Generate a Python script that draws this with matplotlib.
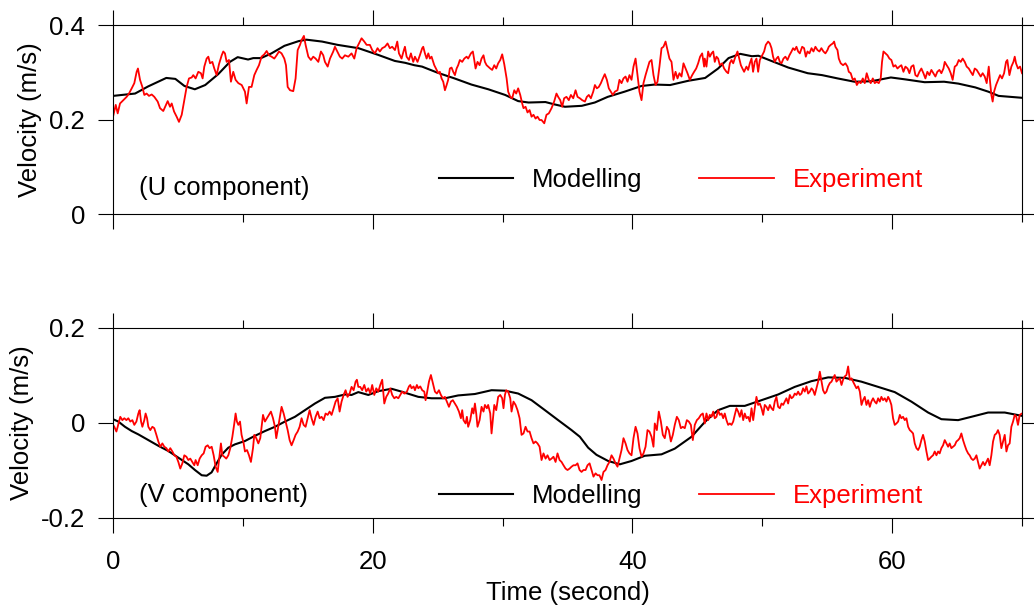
"""Modelled vs measured velocity (U and V components) over time."""

import matplotlib

matplotlib.use("Agg")
import matplotlib.pyplot as plt
from matplotlib.ticker import FuncFormatter, MultipleLocator

plt.rcParams["font.family"] = ["Liberation Sans", "DejaVu Sans"]

# ---- U component ----------------------------------------------------------
u_model_t = [0.0, 1.7, 2.7, 4.1, 4.8, 5.5, 6.3, 7.1, 8.1, 9.0, 9.6, 10.4, 10.8,
             11.4, 12.2, 13.2, 14.3, 14.9, 16.1, 17.3, 18.9, 20.4, 21.7, 22.5,
             23.2, 23.8, 25.0, 26.3, 27.6, 28.9, 30.2, 31.2, 32.0, 33.3, 34.0,
             34.8, 36.1, 37.1, 38.1, 39.4, 40.7, 41.7, 42.9, 44.3, 45.6, 46.6,
             47.4, 48.3, 49.2, 49.7, 50.7, 52.0, 53.5, 54.6, 55.8, 57.1, 58.4,
             59.9, 61.0, 62.5, 64.0, 65.1, 66.4, 67.4, 68.2, 70.0]
u_model = [0.250, 0.255, 0.270, 0.288, 0.286, 0.271, 0.264, 0.273, 0.296,
           0.322, 0.332, 0.327, 0.330, 0.330, 0.340, 0.356, 0.366, 0.369,
           0.365, 0.358, 0.351, 0.337, 0.324, 0.320, 0.315, 0.312, 0.299,
           0.287, 0.274, 0.264, 0.252, 0.239, 0.236, 0.237, 0.232, 0.227,
           0.229, 0.236, 0.248, 0.259, 0.271, 0.274, 0.273, 0.282, 0.288,
           0.308, 0.330, 0.339, 0.334, 0.335, 0.324, 0.310, 0.298, 0.294,
           0.287, 0.280, 0.281, 0.289, 0.285, 0.279, 0.280, 0.276, 0.268,
           0.259, 0.250, 0.246]

u_exp_t = [
    0.00, 0.21, 0.36, 0.54, 0.80, 1.05, 1.23, 1.44, 1.64, 1.82, 1.92, 2.08,
    2.26, 2.41, 2.59, 2.77, 2.98, 3.18, 3.44, 3.62, 3.87, 4.08, 4.21, 4.39,
    4.52, 4.70, 4.90, 5.08, 5.29, 5.49, 5.67, 5.85, 6.06, 6.18, 6.36, 6.57,
    6.77, 6.90, 7.03, 7.21, 7.34, 7.47, 7.65, 7.80, 7.98, 8.16, 8.37, 8.49,
    8.62, 8.75, 8.93, 9.08, 9.26, 9.44, 9.65, 9.91, 10.16, 10.29, 10.47,
    10.67, 10.88, 11.06, 11.24, 11.44, 11.65, 11.83, 12.01, 12.21, 12.42,
    12.60, 12.78, 12.98, 13.19, 13.32, 13.45, 13.63, 13.88, 14.06, 14.22,
    14.40, 14.52, 14.70, 14.83, 15.04, 15.24, 15.42, 15.60, 15.81, 16.01,
    16.19, 16.32, 16.53, 16.71, 16.96, 17.09, 17.27, 17.47, 17.65, 17.86,
    18.12, 18.37, 18.58, 18.76, 18.94, 19.14, 19.35, 19.53, 19.78, 19.96,
    20.17, 20.37, 20.55, 20.73, 20.94, 21.14, 21.32, 21.50, 21.71, 21.89,
    22.02, 22.22, 22.40,
    22.48, 22.61, 22.79, 22.94, 23.12, 23.25, 23.45, 23.63, 23.81, 23.89,
    24.02, 24.15, 24.28, 24.40, 24.53, 24.74, 24.92, 25.05, 25.17, 25.30,
    25.43, 25.56, 25.69, 25.81, 25.94, 26.07, 26.20, 26.33, 26.46, 26.58,
    26.71, 26.89, 27.05, 27.23, 27.35, 27.56, 27.71, 27.82, 27.92, 28.07,
    28.23, 28.38, 28.53, 28.64, 28.77, 28.89, 29.05, 29.20, 29.36, 29.51,
    29.66, 29.82, 29.97, 30.13, 30.31, 30.43, 30.59, 30.74, 30.90, 31.05,
    31.20, 31.36, 31.51, 31.61, 31.77, 31.92, 32.08, 32.23, 32.38, 32.54,
    32.69, 32.85, 33.00, 33.21, 33.38, 33.56, 33.77, 33.97, 34.15, 34.28,
    34.44, 34.59, 34.74, 34.92, 35.10, 35.26, 35.44, 35.62, 35.77, 35.95,
    36.13, 36.34, 36.49, 36.64, 36.80, 36.98, 37.11, 37.26, 37.41, 37.57,
    37.72, 37.87, 38.03, 38.18, 38.34, 38.49, 38.65, 38.85, 39.00, 39.16,
    39.31, 39.47, 39.62, 39.77, 39.93, 40.08, 40.24, 40.39, 40.54, 40.70,
    40.85, 41.01, 41.16, 41.31, 41.47, 41.62, 41.78, 41.93, 42.08, 42.24,
    42.39, 42.55, 42.70, 42.85, 43.01, 43.16, 43.32, 43.47, 43.62, 43.78,
    43.93, 44.09, 44.24, 44.42, 44.60, 44.75, 44.91, 45.06, 45.21, 45.37,
    45.52,
    45.57, 45.70, 45.83, 45.96, 46.09, 46.22, 46.34, 46.47, 46.60, 46.73,
    46.91, 47.06, 47.24, 47.37, 47.50, 47.63, 47.76, 47.93, 48.09, 48.22,
    48.35, 48.47, 48.60, 48.78, 48.91, 49.04, 49.17, 49.29, 49.42, 49.55,
    49.68, 49.81, 49.99, 50.14, 50.27, 50.45, 50.58, 50.71, 50.83, 50.96,
    51.09, 51.22, 51.35, 51.48, 51.63, 51.78, 51.94, 52.09, 52.25, 52.37,
    52.50, 52.63, 52.76, 52.89, 53.07, 53.22, 53.35, 53.48, 53.63, 53.79,
    53.94, 54.09, 54.25, 54.40, 54.55, 54.71, 54.86, 55.02, 55.12, 55.27,
    55.43, 55.53, 55.63, 55.79, 55.89, 56.04, 56.22, 56.40, 56.56, 56.66,
    56.81, 56.97, 57.12, 57.28, 57.43, 57.58, 57.74, 57.89, 58.04, 58.20,
    58.35, 58.51, 58.66, 58.81, 58.97, 59.12, 59.22, 59.33, 59.48, 59.64,
    59.79, 59.94, 60.10, 60.25, 60.41, 60.56, 60.71, 60.87, 61.02, 61.19,
    61.33, 61.48, 61.64, 61.79, 61.94, 62.10, 62.25, 62.41, 62.56, 62.71,
    62.87, 63.02, 63.18, 63.33, 63.48, 63.64, 63.79, 63.95, 64.05, 64.20,
    64.36, 64.51, 64.66, 64.82, 64.97, 65.13, 65.28, 65.43, 65.59, 65.74,
    65.90, 66.05, 66.21, 66.36, 66.51, 66.67, 66.82, 66.97, 67.13, 67.28,
    67.44, 67.54, 67.64, 67.74, 67.85, 68.00, 68.16, 68.31, 68.46, 68.62,
    68.77, 68.87, 69.03, 69.18, 69.34, 69.44, 69.54, 69.69, 69.85, 70.00,
]
u_exp = [
    0.206, 0.231, 0.213, 0.234, 0.241, 0.248, 0.255, 0.266, 0.277, 0.301,
    0.308, 0.284, 0.269, 0.252, 0.255, 0.250, 0.253, 0.248, 0.238, 0.224,
    0.218, 0.231, 0.239, 0.227, 0.234, 0.217, 0.206, 0.195, 0.210, 0.241,
    0.269, 0.287, 0.289, 0.294, 0.287, 0.301, 0.298, 0.287, 0.312, 0.329,
    0.333, 0.319, 0.322, 0.308, 0.294, 0.317, 0.336, 0.344, 0.340, 0.322,
    0.326, 0.280, 0.301, 0.284, 0.277, 0.273, 0.259, 0.234, 0.269, 0.269,
    0.294, 0.305, 0.315, 0.333, 0.338, 0.345, 0.336, 0.333, 0.329, 0.336,
    0.344, 0.340, 0.329, 0.315, 0.269, 0.262, 0.260, 0.287, 0.347, 0.358,
    0.368, 0.377, 0.358, 0.333, 0.326, 0.333, 0.329, 0.322, 0.344, 0.336,
    0.322, 0.312, 0.329, 0.344, 0.354, 0.344, 0.333, 0.329, 0.336, 0.333,
    0.340, 0.329, 0.351, 0.361, 0.372, 0.365, 0.358, 0.358, 0.347, 0.340,
    0.351, 0.344, 0.351, 0.354, 0.361, 0.351, 0.354, 0.347, 0.365, 0.340,
    0.329, 0.347,
    0.354, 0.333, 0.326, 0.340, 0.322, 0.333, 0.322, 0.336, 0.351, 0.354,
    0.340, 0.329, 0.340, 0.329, 0.333, 0.315, 0.305, 0.298, 0.301, 0.287,
    0.280, 0.262, 0.273, 0.284, 0.308, 0.310, 0.301, 0.294, 0.308, 0.315,
    0.326, 0.322, 0.329, 0.333, 0.329, 0.340, 0.344, 0.326, 0.308, 0.322,
    0.315, 0.329, 0.336, 0.322, 0.315, 0.312, 0.308, 0.305, 0.315, 0.308,
    0.319, 0.326, 0.338, 0.317, 0.287, 0.259, 0.248, 0.245, 0.262, 0.255,
    0.266, 0.252, 0.234, 0.224, 0.227, 0.215, 0.220, 0.206, 0.210, 0.202,
    0.206, 0.199, 0.199, 0.192, 0.210, 0.213, 0.224, 0.238, 0.255, 0.248,
    0.241, 0.227, 0.245, 0.248, 0.241, 0.252, 0.245, 0.262, 0.248, 0.245,
    0.241, 0.238, 0.248, 0.252, 0.245, 0.259, 0.273, 0.266, 0.269, 0.277,
    0.287, 0.296, 0.284, 0.266, 0.259, 0.252, 0.259, 0.262, 0.284, 0.277,
    0.287, 0.291, 0.280, 0.294, 0.284, 0.312, 0.329, 0.294, 0.259, 0.241,
    0.277, 0.294, 0.308, 0.322, 0.326, 0.294, 0.273, 0.280, 0.312, 0.351,
    0.354, 0.365, 0.347, 0.329, 0.322, 0.284, 0.301, 0.287, 0.298, 0.291,
    0.319, 0.308, 0.298, 0.284, 0.294, 0.301, 0.308, 0.319, 0.333, 0.340,
    0.312,
    0.329, 0.312, 0.344, 0.333, 0.340, 0.344, 0.322, 0.333, 0.329, 0.315,
    0.319, 0.308, 0.301, 0.298, 0.319, 0.326, 0.319, 0.333, 0.344, 0.329,
    0.315, 0.308, 0.301, 0.312, 0.305, 0.319, 0.329, 0.301, 0.322, 0.329,
    0.301, 0.326, 0.336, 0.344, 0.358, 0.365, 0.361, 0.351, 0.333, 0.322,
    0.329, 0.333, 0.322, 0.319, 0.329, 0.333, 0.326, 0.336, 0.344, 0.351,
    0.347, 0.354, 0.344, 0.340, 0.354, 0.351, 0.333, 0.344, 0.340, 0.351,
    0.344, 0.354, 0.347, 0.344, 0.351, 0.344, 0.340, 0.347, 0.354, 0.358,
    0.361, 0.365, 0.354, 0.347, 0.329, 0.319, 0.315, 0.319, 0.312, 0.301,
    0.298, 0.284, 0.287, 0.273, 0.280, 0.277, 0.287, 0.277, 0.298, 0.284,
    0.277, 0.287, 0.277, 0.280, 0.277, 0.287, 0.322, 0.344, 0.340, 0.336,
    0.329, 0.326, 0.312, 0.315, 0.308, 0.312, 0.315, 0.301, 0.312, 0.308,
    0.298, 0.312, 0.315, 0.294, 0.291, 0.301, 0.308, 0.298, 0.287, 0.301,
    0.294, 0.305, 0.298, 0.291, 0.301, 0.305, 0.298, 0.308, 0.322, 0.315,
    0.308, 0.298, 0.284, 0.312, 0.315, 0.326, 0.322, 0.329, 0.322, 0.312,
    0.308, 0.301, 0.294, 0.308, 0.305, 0.298, 0.291, 0.298, 0.291, 0.277,
    0.312, 0.280, 0.252, 0.238, 0.259, 0.273, 0.284, 0.294, 0.287, 0.298,
    0.322, 0.326, 0.294, 0.312, 0.322, 0.333, 0.319, 0.308, 0.312, 0.298,
]

# ---- V component ----------------------------------------------------------
v_model_t = [0.0, 0.41, 0.92, 1.44, 1.95, 2.72, 3.49, 4.26, 5.03, 5.80, 6.31,
             6.83, 7.21, 7.59, 7.98, 8.36, 8.88, 9.39, 10.16, 10.93, 11.70,
             12.47, 13.24, 14.01, 14.78, 15.55, 16.32, 17.09, 17.86, 18.37,
             18.89, 19.66, 20.43, 21.45, 22.22, 23.51, 24.53, 25.56, 26.58,
             27.87, 29.15, 30.18, 31.20, 32.23, 33.26, 34.28, 35.31, 35.95,
             36.59, 37.23, 38.13, 39.03, 39.93, 40.95, 42.24, 43.26, 44.55,
             45.57, 46.29, 46.60, 47.50, 48.65, 49.94, 51.22, 52.50, 53.78,
             55.07, 56.35, 57.63, 58.92, 60.20, 61.48, 62.77, 63.79, 65.08,
             66.10, 67.39, 68.67, 70.0]
v_model = [0.008, 0.003, -0.008, -0.017, -0.024, -0.036, -0.048, -0.059,
           -0.073, -0.087, -0.099, -0.110, -0.111, -0.104, -0.085, -0.067,
           -0.052, -0.045, -0.038, -0.027, -0.017, -0.008, 0.003, 0.013,
           0.027, 0.041, 0.053, 0.055, 0.060, 0.059, 0.065, 0.059, 0.067,
           0.072, 0.066, 0.055, 0.052, 0.052, 0.058, 0.061, 0.069, 0.068,
           0.062, 0.048, 0.027, 0.006, -0.015, -0.029, -0.052, -0.067,
           -0.080, -0.087, -0.080, -0.069, -0.066, -0.054, -0.029, 0.002,
           0.020, 0.027, 0.036, 0.036, 0.048, 0.060, 0.076, 0.088, 0.096,
           0.095, 0.087, 0.076, 0.065, 0.045, 0.022, 0.008, 0.006, 0.013,
           0.022, 0.022, 0.015]

v_exp_t = [
    0.00, 0.10, 0.26, 0.36, 0.46, 0.56, 0.72, 0.87, 1.03, 1.18, 1.33, 1.49,
    1.64, 1.80, 1.95, 2.05, 2.16, 2.26, 2.41, 2.51, 2.62, 2.72, 2.87, 3.03,
    3.18, 3.34, 3.49, 3.64, 3.80, 3.95, 4.11, 4.26, 4.41, 4.57, 4.72, 4.88,
    5.03, 5.18, 5.34, 5.49, 5.65, 5.80, 5.95, 6.11, 6.26, 6.36, 6.52, 6.67,
    6.83, 6.98, 7.13, 7.29, 7.44, 7.60, 7.75, 7.90, 8.06, 8.21, 8.31, 8.42,
    8.57, 8.72, 8.88, 9.03, 9.19, 9.34, 9.44, 9.54, 9.65, 9.78, 9.90, 10.06,
    10.16, 10.32, 10.47, 10.62, 10.78, 10.88, 11.03, 11.19, 11.34, 11.44,
    11.55, 11.70, 11.85, 12.01, 12.16, 12.32, 12.47, 12.57, 12.68, 12.83,
    12.98, 13.14, 13.29, 13.45, 13.60, 13.75, 13.91, 14.06, 14.22, 14.37,
    14.52, 14.68, 14.83, 14.99, 15.14, 15.29, 15.45, 15.60, 15.76, 15.91,
    16.06, 16.22, 16.37, 16.53, 16.68, 16.83, 16.99, 17.14, 17.30, 17.45,
    17.60, 17.76, 17.91, 18.06, 18.22, 18.37, 18.53, 18.68, 18.78, 18.89,
    19.04, 19.19, 19.35, 19.50, 19.66, 19.81, 19.96, 20.12, 20.27, 20.43,
    20.58, 20.73, 20.89, 21.04, 21.19, 21.35, 21.50, 21.66, 21.81, 21.97,
    22.12, 22.27, 22.43,
    22.48, 22.63, 22.79, 22.89, 22.99, 23.15, 23.25, 23.40, 23.51, 23.66,
    23.81, 23.97, 24.07, 24.17, 24.33, 24.48, 24.63, 24.79, 24.94, 25.10,
    25.25, 25.40, 25.56, 25.71, 25.87, 26.02, 26.17, 26.33, 26.48, 26.64,
    26.79, 26.89, 26.99, 27.15, 27.25, 27.35, 27.51, 27.66, 27.76, 27.87,
    27.97, 28.07, 28.23, 28.38, 28.53, 28.64, 28.79, 28.89, 29.05, 29.15,
    29.25, 29.36, 29.51, 29.66, 29.82, 29.97, 30.07, 30.18, 30.28, 30.43,
    30.59, 30.69, 30.84, 31.00, 31.15, 31.31, 31.46, 31.61, 31.77, 31.92,
    32.08, 32.23, 32.38, 32.54, 32.69, 32.85, 33.00, 33.15, 33.31, 33.46,
    33.62, 33.77, 33.92, 34.08, 34.23, 34.39, 34.54, 34.69, 34.85, 35.00,
    35.16, 35.31, 35.46, 35.62, 35.77, 35.93, 36.08, 36.23, 36.39, 36.54,
    36.70, 36.85, 37.00, 37.16, 37.31, 37.46, 37.62, 37.77, 37.93, 38.08,
    38.23, 38.39, 38.54, 38.70, 38.85, 39.00, 39.16, 39.31, 39.47, 39.62,
    39.77, 39.93, 40.08, 40.24, 40.39, 40.54, 40.70, 40.85, 41.01, 41.16,
    41.31, 41.47, 41.62, 41.72, 41.88, 42.03, 42.19, 42.34, 42.49, 42.65,
    42.80, 42.96, 43.11, 43.26, 43.42, 43.57, 43.73, 43.88, 44.03, 44.19,
    44.34, 44.50, 44.65, 44.80, 44.96, 45.11, 45.27, 45.42,
    45.57, 45.70, 45.83, 45.96, 46.09, 46.22, 46.34, 46.47, 46.60, 46.73,
    46.86, 46.99, 47.11, 47.24, 47.37, 47.50, 47.63, 47.76, 47.88, 48.01,
    48.14, 48.27, 48.40, 48.53, 48.65, 48.78, 48.91, 49.04, 49.17, 49.30,
    49.42, 49.55, 49.68, 49.81, 49.94, 50.07, 50.19, 50.32, 50.45, 50.58,
    50.71, 50.84, 50.96, 51.09, 51.22, 51.35, 51.48, 51.61, 51.73, 51.86,
    51.99, 52.12, 52.25, 52.38, 52.50, 52.63, 52.76, 52.89, 53.02, 53.14,
    53.27, 53.40, 53.53, 53.66, 53.79, 53.91, 54.04, 54.17, 54.30, 54.43,
    54.56, 54.68, 54.81, 54.94, 55.07, 55.20, 55.33, 55.45, 55.58, 55.71,
    55.84, 55.97, 56.10, 56.22, 56.35, 56.48, 56.61, 56.74, 56.87, 56.99,
    57.12, 57.25, 57.38, 57.51, 57.64, 57.76, 57.89, 58.02, 58.15, 58.28,
    58.40, 58.53, 58.66, 58.79, 58.92, 59.05, 59.17, 59.30, 59.43, 59.56,
    59.69, 59.82, 59.94, 60.07, 60.20, 60.33, 60.46, 60.59, 60.71, 60.84,
    60.97, 61.10, 61.23, 61.36, 61.48, 61.61, 61.74, 61.87, 62.00, 62.12,
    62.25, 62.38, 62.51, 62.64, 62.77, 62.89, 63.02, 63.15, 63.28, 63.41,
    63.54, 63.66, 63.79, 63.92, 64.05, 64.18, 64.31, 64.43, 64.56, 64.69,
    64.82, 64.95, 65.08, 65.20, 65.33, 65.46, 65.59, 65.72, 65.85, 65.97,
    66.10, 66.23, 66.36, 66.49, 66.61, 66.74, 66.87, 67.00, 67.13, 67.26,
    67.38, 67.51, 67.64, 67.77, 67.90, 68.03, 68.15, 68.28, 68.41, 68.54,
    68.67, 68.80, 68.92, 69.05, 69.18, 69.31, 69.44, 69.56, 69.69, 69.82,
    70.00,
]
v_exp = [
    -0.004, -0.008, -0.018, -0.008, 0.003, 0.013, 0.006, 0.010, 0.006, 0.010,
    0.003, 0.006, -0.004, 0.003, 0.020, 0.027, 0.003, -0.008, 0.006, 0.020,
    0.010, -0.008, -0.015, -0.008, -0.011, -0.025, -0.039, -0.050, -0.043,
    -0.050, -0.053, -0.060, -0.053, -0.060, -0.068, -0.071, -0.082, -0.096,
    -0.085, -0.068, -0.071, -0.078, -0.075, -0.082, -0.089, -0.078, -0.089,
    -0.075, -0.068, -0.064, -0.050, -0.047, -0.053, -0.050, -0.068, -0.092,
    -0.103, -0.068, -0.043, -0.068, -0.071, -0.075, -0.068, -0.053, -0.029,
    -0.001, 0.020, 0.003, -0.004, 0.003, -0.025, -0.043, -0.060, -0.057,
    -0.068, -0.082, -0.053, -0.025, -0.032, -0.043, -0.032, -0.008, 0.017,
    0.003, 0.010, 0.017, 0.024, 0.010, -0.008, -0.032, -0.015, 0.010, 0.034,
    0.020, 0.003, -0.015, -0.036, -0.047, -0.036, -0.025, -0.018, -0.008,
    0.010, -0.004, -0.008, 0.010, 0.027, 0.010, -0.004, 0.013, 0.024, 0.010,
    0.013, 0.006, 0.020, 0.017, 0.024, 0.017, 0.031, 0.045, 0.052, 0.024,
    0.045, 0.059, 0.069, 0.055, 0.062, 0.076, 0.069, 0.087, 0.091, 0.076,
    0.076, 0.069, 0.080, 0.066, 0.073, 0.062, 0.080, 0.059, 0.073, 0.066,
    0.080, 0.091, 0.041, 0.055, 0.062, 0.073, 0.059, 0.052, 0.055, 0.052,
    0.059, 0.066, 0.062,
    0.062, 0.066, 0.077, 0.080, 0.073, 0.077, 0.069, 0.080, 0.073, 0.077,
    0.069, 0.066, 0.048, 0.062, 0.087, 0.101, 0.084, 0.066, 0.062, 0.069,
    0.059, 0.052, 0.055, 0.045, 0.034, 0.045, 0.048, 0.041, 0.034, 0.024,
    0.010, 0.027, 0.006, -0.001, 0.013, -0.008, 0.006, 0.031, 0.020, 0.041,
    0.020, -0.008, 0.006, 0.034, 0.024, 0.038, 0.031, 0.038, 0.020, -0.022,
    0.006, 0.038, 0.027, 0.055, 0.059, 0.052, 0.031, 0.059, 0.069, 0.066,
    0.052, 0.024, 0.045, 0.038, 0.027, 0.010, -0.025, -0.022, -0.008, -0.018,
    -0.018, -0.032, -0.043, -0.039, -0.043, -0.050, -0.078, -0.064, -0.075,
    -0.068, -0.078, -0.075, -0.071, -0.082, -0.064, -0.078, -0.082, -0.089,
    -0.096, -0.099, -0.096, -0.092, -0.089, -0.089, -0.085, -0.099, -0.103,
    -0.099, -0.099, -0.089, -0.085, -0.099, -0.113, -0.106, -0.110, -0.110,
    -0.120, -0.103, -0.099, -0.089, -0.082, -0.068, -0.075, -0.085, -0.092,
    -0.075, -0.057, -0.032, -0.043, -0.057, -0.064, -0.068, -0.032, -0.008,
    -0.022, -0.053, -0.071, -0.064, -0.050, -0.015, -0.018, -0.029, -0.050,
    -0.001, -0.015, 0.024, 0.003, -0.025, -0.032, -0.008, -0.015, -0.039,
    -0.025, -0.004, 0.013, 0.006, -0.011, -0.008, -0.011, 0.006, 0.003,
    -0.004, -0.036, -0.004, 0.006, 0.010, 0.017, 0.020,
    -0.001, 0.020, 0.006, 0.017, 0.013, 0.024, 0.010, 0.013, 0.027, 0.017,
    0.020, 0.010, 0.020, 0.006, -0.004, -0.001, -0.004, 0.003, 0.017, 0.031,
    0.024, 0.013, 0.027, 0.006, 0.020, 0.010, 0.013, 0.003, 0.031, 0.006,
    0.031, 0.055, 0.038, 0.041, 0.031, 0.017, 0.038, 0.034, 0.027, 0.038,
    0.031, 0.027, 0.045, 0.055, 0.034, 0.031, 0.041, 0.038, 0.045, 0.052,
    0.041, 0.059, 0.052, 0.055, 0.062, 0.059, 0.066, 0.059, 0.062, 0.073,
    0.066, 0.077, 0.062, 0.066, 0.073, 0.069, 0.059, 0.073, 0.087, 0.108,
    0.087, 0.069, 0.062, 0.066, 0.077, 0.084, 0.087, 0.094, 0.101, 0.087,
    0.091, 0.094, 0.080, 0.091, 0.098, 0.101, 0.119, 0.091, 0.094, 0.087,
    0.080, 0.073, 0.077, 0.066, 0.038, 0.048, 0.055, 0.038, 0.048, 0.034,
    0.045, 0.052, 0.045, 0.041, 0.052, 0.045, 0.055, 0.048, 0.052, 0.045,
    0.055, 0.048, 0.038, 0.010, -0.004, -0.001, 0.003, 0.017, 0.010, 0.013,
    0.006, 0.010, -0.008, -0.015, -0.018, -0.022, -0.043, -0.053, -0.057,
    -0.050, -0.036, -0.025, -0.039, -0.060, -0.078, -0.075, -0.071, -0.068,
    -0.060, -0.068, -0.060, -0.064, -0.053, -0.047, -0.036, -0.043, -0.050,
    -0.043, -0.053, -0.050, -0.047, -0.039, -0.036, -0.032, -0.022, -0.036,
    -0.047, -0.057, -0.064, -0.068, -0.075, -0.078, -0.075, -0.068, -0.082,
    -0.096, -0.089, -0.082, -0.089, -0.082, -0.075, -0.089, -0.068, -0.039,
    -0.025, -0.022, -0.015, -0.025, -0.053, -0.039, -0.025, -0.060, -0.047,
    -0.043, -0.008, 0.003, 0.017, 0.013, -0.004, 0.017, 0.020,
]

X_LIM = (0, 70)
FONT_SIZE = 18.5


def style_axis(ax, y_lim, y_step, show_x_labels):
    """Frame, ticks and tick labels shared by both panels."""
    ax.set_xlim(*X_LIM)
    ax.set_ylim(*y_lim)
    ax.xaxis.set_major_locator(MultipleLocator(20))
    ax.xaxis.set_minor_locator(MultipleLocator(10))
    ax.yaxis.set_major_locator(MultipleLocator(y_step))
    ax.yaxis.set_major_formatter(
        FuncFormatter(lambda v, _: "0" if abs(v) < 1e-9 else f"{v:g}")
    )
    ax.tick_params(which="both", direction="out", top=True, right=True,
                   width=0.8, colors="black", labelsize=FONT_SIZE)
    ax.tick_params(which="major", length=11)
    ax.tick_params(which="minor", length=6)
    ax.tick_params(axis="y", pad=9)
    ax.tick_params(axis="x", pad=12, labelbottom=show_x_labels)
    for spine in ax.spines.values():
        spine.set_linewidth(0.8)
    ax.set_ylabel("Velocity (m/s)", fontsize=FONT_SIZE, labelpad=5)


def add_legend(ax, y_anchor):
    ax.legend(ncol=2, frameon=False, loc="center left",
              bbox_to_anchor=(0.344, y_anchor), borderpad=0,
              handlelength=2.9, handletextpad=0.75, columnspacing=2.2,
              fontsize=FONT_SIZE, labelcolor="linecolor")


def main() -> None:
    fig = plt.figure(figsize=(10.34, 6.12), dpi=100)
    ax_u = fig.add_axes([0.1093, 0.6503, 0.8791, 0.3088])
    ax_v = fig.add_axes([0.1093, 0.1536, 0.8791, 0.3105])

    ax_u.plot(u_model_t, u_model, color="black", lw=1.5, label="Modelling")
    ax_u.plot(u_exp_t, u_exp, color="red", lw=1.3, label="Experiment")
    style_axis(ax_u, (0, 0.4), 0.2, show_x_labels=False)
    add_legend(ax_u, 0.18)
    ax_u.text(0.0286, 0.138, "(U component)", transform=ax_u.transAxes,
              ha="left", va="center", fontsize=FONT_SIZE)

    ax_v.plot(v_model_t, v_model, color="black", lw=1.5, label="Modelling")
    ax_v.plot(v_exp_t, v_exp, color="red", lw=1.3, label="Experiment")
    style_axis(ax_v, (-0.2, 0.2), 0.2, show_x_labels=True)
    add_legend(ax_v, 0.115)
    ax_v.text(0.0286, 0.121, "(V component)", transform=ax_v.transAxes,
              ha="left", va="center", fontsize=FONT_SIZE)
    ax_v.set_xlabel("Time (second)", fontsize=FONT_SIZE, labelpad=5)

    fig.savefig("out.png", dpi=100)
    plt.close(fig)


if __name__ == "__main__":
    main()
